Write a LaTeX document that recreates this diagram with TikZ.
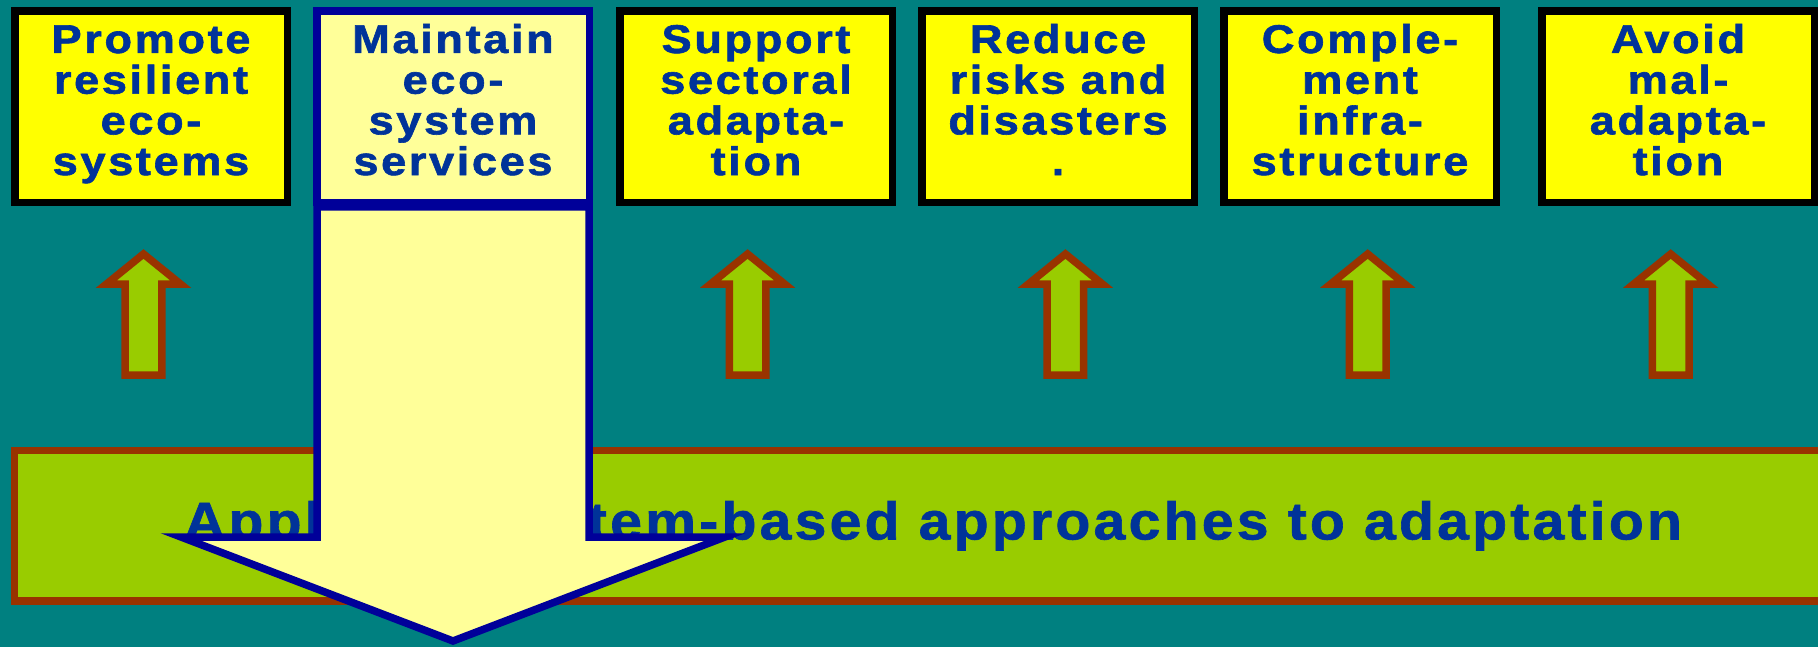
\documentclass[tikz,border=0pt]{standalone}
\usepackage{fontspec}
\setmainfont{Liberation Sans}
\newfontfamily\boxfont{Liberation Sans}[FakeStretch=1.13, FakeBold=1.5, LetterSpace=6.5]
\newfontfamily\barfont{Liberation Sans}[FakeStretch=1.08, FakeBold=1.2, LetterSpace=6]
\definecolor{bgteal}{HTML}{008080}
\definecolor{goalyellow}{HTML}{FFFF00}
\definecolor{paleyellow}{HTML}{FFFF99}
\definecolor{navyline}{HTML}{000099}
\definecolor{txtblue}{HTML}{003399}
\definecolor{leafgreen}{HTML}{99CC00}
\definecolor{rustbrown}{HTML}{993300}
\newcommand\tstr{\rule{0pt}{33pt}}
\newcommand\bstr{\rule[-19pt]{0pt}{19pt}}
\tikzset{
  goal/.style={draw=black, fill=goalyellow, line width=7.5pt, line join=miter,
    minimum width=272.5pt, minimum height=191.5pt, inner sep=0pt, outer sep=0pt,
    align=center, text=txtblue,
    font=\boxfont\bfseries\fontsize{40pt}{40.7pt}\selectfont},
  goalpale/.style={goal, draw=navyline, fill=paleyellow},
  barbox/.style={draw=rustbrown, fill=leafgreen, line width=7.5pt,
    minimum width=1837pt, minimum height=150.5pt, inner sep=0pt, outer sep=0pt,
    text=txtblue, font=\barfont\bfseries\fontsize{53pt}{60pt}\selectfont},
  uparrowline/.style={draw=rustbrown, fill=leafgreen, line width=7.5pt, line join=miter},
  downarrowline/.style={draw=navyline, fill=paleyellow, line width=7.5pt, line join=miter},
  uparr/.pic={
    \path[uparrowline] (0,254) -- (37,284) -- (18.3,284) -- (18.3,375)
      -- (-18.3,375) -- (-18.3,284) -- (-37,284) -- cycle;
  }
}
\begin{document}
\begin{tikzpicture}[x=1pt, y=-1pt]
\useasboundingbox (0,0) rectangle (1818,647);
\clip (0,0) rectangle (1818,647);
\fill[bgteal] (0,0) rectangle (1818,647);

% bottom bar with its text
\node[barbox] (bar) at (933,525.75) {Apply ecosystem-based approaches to adaptation};

% up arrows
\pic (u1) at (143.5,0) {uparr};
\pic (u3) at (747.6,0) {uparr};
\pic (u4) at (1065.4,0) {uparr};
\pic (u5) at (1367.7,0) {uparr};
\pic (u6) at (1670.7,0) {uparr};

% goal boxes
\node[goal] (b1) at (151,107) {\tstr Promote\\ resilient\\ eco-\\ systems\bstr};
\node[goal] (b3) at (756,107) {\tstr Support\\ sectoral\\ adapta-\\ tion\bstr};
\node[goal] (b4) at (1058,107) {\tstr Reduce\\ risks and\\ disasters\\ .\bstr};
\node[goal] (b5) at (1360,107) {\tstr Comple-\\ ment\\ infra-\\ structure\bstr};
\node[goal] (b6) at (1678,107) {\tstr Avoid\\ mal-\\ adapta-\\ tion\bstr};

% big down arrow
\path[downarrowline] (317,207) -- (589,207) -- (589,537) -- (725,537)
  -- (453,641) -- (181,537) -- (317,537) -- cycle;

\node[goalpale] (b2) at (453,107) {\tstr Maintain\\ eco-\\ system\\ services\bstr};
\end{tikzpicture}
\end{document}
